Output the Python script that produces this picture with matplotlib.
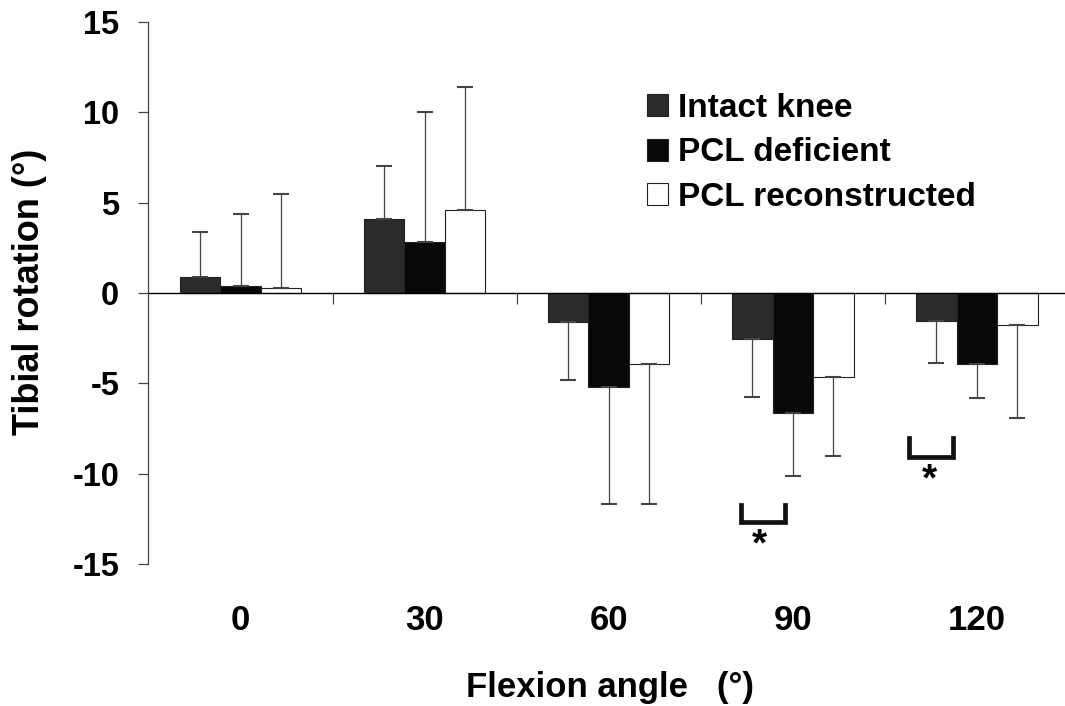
import matplotlib
matplotlib.use("Agg")
import matplotlib.pyplot as plt
import numpy as np

# data
angles = ["0", "30", "60", "90", "120"]
intact = [0.9, 4.1, -1.6, -2.55, -1.55]
intact_sd = [2.5, 2.95, 3.2, 3.2, 2.3]
deficient = [0.4, 2.8, -5.2, -6.65, -3.95]
deficient_sd = [4.0, 7.2, 6.45, 3.5, 1.85]
recon = [0.3, 4.6, -3.95, -4.65, -1.75]
recon_sd = [5.2, 6.8, 7.7, 4.35, 5.15]
labels = ["Intact knee", "PCL deficient", "PCL reconstructed"]

plt.rcParams['font.family'] = ['Liberation Sans', 'DejaVu Sans']
plt.rcParams['font.weight'] = 'bold'

fig = plt.figure(figsize=(10.65, 7.06), dpi=100)
# right end of the x range runs slightly off the picture, as in the scan
ax = fig.add_axes([0.1394, 0.2011, 0.8643, 0.7677])

x = np.arange(len(angles))
w = 0.22
series = [(intact, intact_sd, '#2b2b2b'), (deficient, deficient_sd, '#080808'),
          (recon, recon_sd, 'white')]

for i, (vals, sd, col) in enumerate(series):
    vals = np.array(vals)
    sd = np.array(sd)
    # one-sided error bars, pointing away from zero
    lo = np.where(vals < 0, sd, 0)
    hi = np.where(vals >= 0, sd, 0)
    ax.bar(x + (i - 1) * w, vals, w, color=col, edgecolor='#222222', linewidth=0.8,
           label=labels[i], zorder=2,
           yerr=[lo, hi], error_kw=dict(ecolor='#444444', elinewidth=0.9,
                                        capsize=5.5, capthick=1.5))

# significance brackets
def bracket(x0, x1, ytop, ybot, xstar, ystar):
    ax.plot([x0, x0, x1, x1], [ytop, ybot, ybot, ytop], color='#111111', lw=3.4,
            solid_joinstyle='miter', clip_on=False, zorder=3)
    ax.text(xstar, ystar, "*", ha='center', va='center', fontsize=28,
            fontweight='bold')

bracket(3 - 0.28, 3 - 0.04, -11.75, -12.7, 3 - 0.18, -14.0)
bracket(4 - 0.37, 4 - 0.13, -8.05, -9.05, 4 - 0.26, -10.4)

ax.set_xlim(-0.5, 4.5)
ax.set_ylim(-15, 15)
ax.set_yticks([-15, -10, -5, 0, 5, 10, 15])
ax.set_yticklabels(["-15", "-10", "-5", "0", "5", "10", "15"])
ax.tick_params(axis='y', labelsize=23.5, length=7, width=0.9, pad=14,
               color='#444444')

# x axis drawn at zero with separator ticks
ax.spines['bottom'].set_position(('data', 0))
ax.spines['top'].set_visible(False)
ax.spines['right'].set_visible(False)
ax.spines['left'].set_linewidth(0.9)
ax.spines['left'].set_color('#444444')
ax.spines['bottom'].set_linewidth(1.0)
ax.set_xticks([0.5, 1.5, 2.5, 3.5])
ax.set_xticklabels([])
ax.tick_params(axis='x', length=8, width=0.9, direction='out', color='#444444')

for xi, a in zip(x, angles):
    ax.text(xi, -18.1, a, ha='center', va='center', fontsize=25, fontweight='bold',
            clip_on=False)

fig.text(0.011, 1 - 292 / 706, "Tibial rotation (°)", rotation=90, ha='left',
         va='center', fontsize=26, fontweight='bold')
fig.text(0.573, 1 - 697 / 706, "Flexion angle   (°)", ha='center', va='baseline',
         fontsize=25, fontweight='bold')

ax.legend(loc='upper left', bbox_to_anchor=(647 / 1065, 1 - 93 / 706),
          bbox_transform=fig.transFigure, frameon=False,
          fontsize=24, handlelength=0.63, handleheight=0.63, handletextpad=0.3,
          labelspacing=0.4, borderpad=0, borderaxespad=0)

fig.savefig("out.png", dpi=100, facecolor='white')
